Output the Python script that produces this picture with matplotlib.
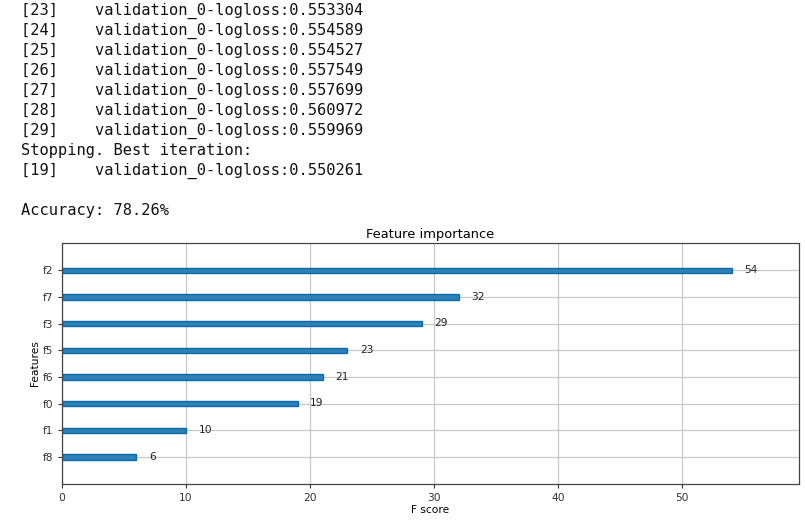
import matplotlib
matplotlib.use("Agg")
import matplotlib.pyplot as plt

# training log printed above the chart
log_iters = ["[23]", "[24]", "[25]", "[26]", "[27]", "[28]", "[29]"]
log_values = ["0.553304", "0.554589", "0.554527", "0.557549",
              "0.557699", "0.560972", "0.559969"]
best_iter = "[19]"
best_value = "0.550261"
accuracy = "78.26%"

# feature importance (F score), bottom to top
features = ["f8", "f1", "f0", "f6", "f5", "f3", "f7", "f2"]
scores = [6, 10, 19, 21, 23, 29, 32, 54]

W, H = 805, 522
fig = plt.figure(figsize=(W / 100, H / 100), dpi=100)

lines = [f"{it}    validation_0-logloss:{v}" for it, v in zip(log_iters, log_values)]
lines.append("Stopping. Best iteration:")
lines.append(f"{best_iter}    validation_0-logloss:{best_value}")
lines.append("")
lines.append(f"Accuracy: {accuracy}")
for k, s in enumerate(lines):
    fig.text(20.5 / W, 1 - (15 + 20 * k) / H, s, family="DejaVu Sans Mono",
             fontsize=11.05, va="baseline", ha="left", color="#111111")

ax = fig.add_axes([62 / W, 1 - 483.5 / H, (799 - 62) / W, (483.5 - 243.5) / H])
ylocs = list(range(len(features)))
ax.barh(ylocs, scores, height=0.2, align="center",
        color="#2f80b8", edgecolor="#0b6aa8", linewidth=1.0)
for x, y in zip(scores, ylocs):
    ax.text(x + 1, y, str(x), va="center", fontsize=7.7, color="#222222")
ax.set_yticks(ylocs)
ax.set_yticklabels(features)
ax.set_xlim(0, max(scores) * 1.1)
ax.set_ylim(-1, len(features))
ax.set_title("Feature importance", fontsize=9.4, pad=4)
ax.set_xlabel("F score", fontsize=7.7, labelpad=2)
ax.set_ylabel("Features", fontsize=7.7, labelpad=2)
ax.tick_params(labelsize=7.7, length=3, width=0.8, colors="#333333")
ax.grid(True, color="#c8c8c8", linewidth=0.9)
ax.set_axisbelow(True)
for sp in ax.spines.values():
    sp.set_color("#444444")
    sp.set_linewidth(0.9)

fig.savefig("out.png", dpi=100)
